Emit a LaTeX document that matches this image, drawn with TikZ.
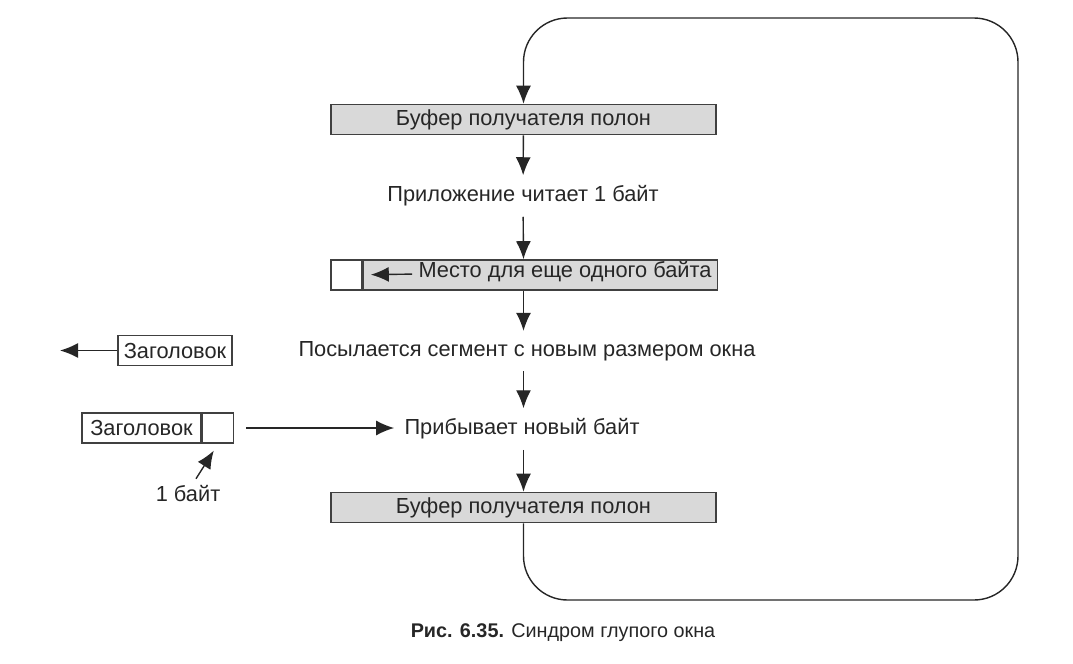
\documentclass[tikz,border=0pt]{standalone}
\usepackage{fontspec}
\setmainfont{Liberation Sans}
\usetikzlibrary{arrows.meta,positioning}
\tikzset{
  arr/.style={-{Latex[length=9pt,width=7.5pt]}, line width=0.7pt, black!85},
  buf/.style={draw=black!75, line width=0.8pt, fill=gray!30, minimum width=192.5pt, minimum height=15pt, inner sep=0pt},
  cell/.style={draw=black!75, line width=0.8pt, fill=white, minimum height=15pt, inner sep=0pt},
  stepnode/.style={inner sep=5pt},
}
\begin{document}
\begin{tikzpicture}[x=0.5pt, y=-0.5pt, font=\fontsize{10.9}{13}\selectfont, text=black!85]
    \useasboundingbox (0,0) rectangle (1073,664);

    % Buffers
    \node[buf] (buf1) at (523.5,119.5) {Буфер получателя полон};
    \node[cell, minimum width=15.5pt] (free) at (346.5,275) {};
    \node[buf, minimum width=177pt, anchor=west] (room) at (free.east) {};
    \node[inner sep=3pt] (roomtxt) at (565,272) {Место для еще одного байта};
    \node[buf] (buf3) at (523.5,507.5) {Буфер получателя полон};

    % Steps
    \node[stepnode] (s1) at (523,196) {Приложение читает 1 байт};
    \node[stepnode] (s2) at (527,351) {Посылается сегмент с новым размером окна};
    \node[stepnode] (s3) at (522,429) {Прибывает новый байт};

    % Segments
    \node[cell, minimum width=57pt] (hdr1) at (175,350.5) {Заголовок};
    \coordinate (out) at (60,350.5);
    \node[cell, minimum width=59.5pt] (hdr2) at (141.5,428) {Заголовок};
    \node[cell, minimum width=15.5pt, anchor=west] (byte) at (hdr2.east) {};
    \node (lbl) at (188,494) {1 байт};

    % Arrows
    \draw[arr] (buf1) -- (s1);
    \draw[arr] (s1) -- (buf1 |- room.north);
    \draw[arr] (buf1 |- room.south) -- (s2.north -| buf1);
    \draw[arr] (s2.south -| buf1) -- (s3.north -| buf1);
    \draw[arr] (s3.south -| buf1) -- (buf3);
    \draw[arr, shorten >=4pt] (roomtxt) -- (free);
    \draw[arr] (hdr1) -- (out);
    \draw[arr, shorten <=6pt] (byte.east) -- (byte.east -| s3.west);
    \draw[arr, shorten >=4pt] ([xshift=4pt]lbl.north) -- (byte.south);

    % Loop
    \draw[arr, rounded corners=22pt] (buf3.south) -- (buf3.south |- 0,600) -- (1018,600) -- (1018,18) -- (buf1.north |- 0,18) -- (buf1.north);

    % Caption
    \node[font=\fontsize{9.9}{12}\selectfont] (cap) at (563,633) {{\bfseries Рис. 6.35.} Синдром глупого окна};

\end{tikzpicture}
\end{document}
